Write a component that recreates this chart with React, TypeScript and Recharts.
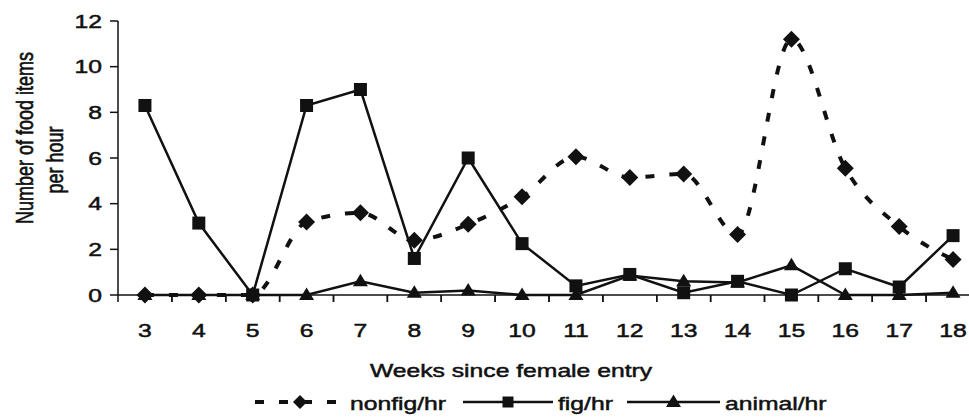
import React from 'react';
import { LineChart, Line, XAxis, YAxis, Legend } from 'recharts';

const weeks = [3, 4, 5, 6, 7, 8, 9, 10, 11, 12, 13, 14, 15, 16, 17, 18];
const nonfigPerHr = [0, 0, 0, 3.2, 3.6, 2.4, 3.1, 4.3, 6.05, 5.15, 5.3, 2.65, 11.2, 5.55, 3.0, 1.55];
const figPerHr = [8.3, 3.15, 0, 8.3, 9.0, 1.6, 6.0, 2.25, 0.4, 0.9, 0.1, 0.6, 0, 1.15, 0.35, 2.6];
const animalPerHr = [0, 0, 0, 0, 0.6, 0.1, 0.2, 0, 0, 0.85, 0.6, 0.55, 1.3, 0, 0, 0.1];
const yTicks = [0, 2, 4, 6, 8, 10, 12];

const data = weeks.map((week, i) => ({
  week,
  nonfig: nonfigPerHr[i],
  fig: figPerHr[i],
  animal: animalPerHr[i],
}));

const CHART_W = 980;
const CHART_H = 418;
const Y_AXIS_W = 118;
const STEP = (CHART_W - Y_AXIS_W) / weeks.length;
const INK = '#111';
const FONT = '"Liberation Sans", Arial, sans-serif';
const STRETCH = 'scale(1.3,1)';
const DASH = '9 15';

// scanned-looking text: a thin outline makes the glyphs a bit heavier
const textStyle = { fontSize: 19, fontFamily: FONT, fill: INK, stroke: INK, strokeWidth: 0.5 };

// markers
const Square = ({ cx, cy, size = 13 }: any) => (
  <rect x={cx - size / 2} y={cy - size / 2} width={size} height={size} fill={INK} />
);
const Diamond = ({ cx, cy, r = 8.5 }: any) => (
  <path d={`M${cx},${cy - r}L${cx + r},${cy}L${cx},${cy + r}L${cx - r},${cy}Z`} fill={INK} />
);
const Triangle = ({ cx, cy }: any) => (
  <path d={`M${cx},${cy - 7.5}L${cx + 7.5},${cy + 5}L${cx - 7.5},${cy + 5}Z`} fill={INK} />
);

const WeekTick = ({ x, y, payload }: any) => (
  <g>
    <line x1={x - STEP / 2} y1={y} x2={x - STEP / 2} y2={y + 7} stroke={INK} strokeWidth={1.5} />
    <line x1={x + STEP / 2} y1={y} x2={x + STEP / 2} y2={y + 7} stroke={INK} strokeWidth={1.5} />
    <text transform={`translate(${x},${y + 42}) ${STRETCH}`} textAnchor="middle" {...textStyle}>
      {payload.value}
    </text>
  </g>
);

const ValueTick = ({ x, y, payload }: any) => (
  <text transform={`translate(${x},${y}) ${STRETCH}`} dy="0.35em" textAnchor="end" {...textStyle}>
    {payload.value}
  </text>
);

const XTitle = ({ viewBox }: any) => (
  <text transform={`translate(511,${viewBox.y + 82}) ${STRETCH}`} textAnchor="middle" {...textStyle}>
    Weeks since female entry
  </text>
);

const YTitle = ({ viewBox }: any) => (
  <g textAnchor="middle" {...textStyle} fontSize={18}>
    <text transform={`translate(33,${viewBox.y + 117}) rotate(-90) scale(1,1.3)`}>Number of food items</text>
    <text transform={`translate(63,${viewBox.y + 139}) rotate(-90) scale(1,1.3)`}>per hour</text>
  </g>
);

const legendItems = [
  { label: 'nonfig/hr', x1: 255, x2: 345, mark: 'diamond', dashed: true },
  { label: 'fig/hr', x1: 463, x2: 553, mark: 'square', dashed: false },
  { label: 'animal/hr', x1: 627, x2: 720, mark: 'triangle', dashed: false },
];

const LegendContent = () => (
  <svg width={969} height={36}>
    {legendItems.map((item) => {
      const mid = (item.x1 + item.x2) / 2;
      return (
        <g key={item.label}>
          <line
            x1={item.x1}
            y1={20}
            x2={item.x2}
            y2={20}
            stroke={INK}
            strokeWidth={item.dashed ? 4 : 2.5}
            strokeDasharray={item.dashed ? DASH : undefined}
          />
          {item.mark === 'diamond' && <Diamond cx={mid} cy={20} r={7} />}
          {item.mark === 'square' && <Square cx={mid} cy={20} size={11} />}
          {item.mark === 'triangle' && <Triangle cx={mid} cy={20} />}
          <text transform={`translate(${item.x2 + 5},28) ${STRETCH}`} {...textStyle}>
            {item.label}
          </text>
        </g>
      );
    })}
  </svg>
);

export default function App() {
  return (
    <div style={{ position: 'absolute', left: 0, top: 0, width: 969, height: 418, overflow: 'hidden', background: '#fff' }}>
      <LineChart width={CHART_W} height={CHART_H} data={data} margin={{ top: 21, right: 0, left: 0, bottom: 43 }}>
        <XAxis
          dataKey="week"
          type="number"
          domain={[2.5, 18.5]}
          ticks={weeks}
          interval={0}
          tick={<WeekTick />}
          tickLine={false}
          tickSize={0}
          tickMargin={0}
          height={80}
          axisLine={{ stroke: INK, strokeWidth: 1.5 }}
          label={<XTitle />}
        />
        <YAxis
          domain={[0, 12]}
          ticks={yTicks}
          width={Y_AXIS_W}
          tickSize={8}
          tickMargin={8}
          tick={<ValueTick />}
          tickLine={{ stroke: INK, strokeWidth: 1.5 }}
          axisLine={{ stroke: INK, strokeWidth: 1.5 }}
          label={<YTitle />}
        />
        <Legend
          layout="vertical"
          align="center"
          verticalAlign="middle"
          content={<LegendContent />}
          wrapperStyle={{ position: 'absolute', left: 0, top: 382, width: 969, height: 36 }}
        />
        <Line
          type="monotone"
          dataKey="nonfig"
          stroke={INK}
          strokeWidth={4}
          strokeDasharray={DASH}
          isAnimationActive={false}
          dot={(p: any) => <Diamond key={`d-${p.index}`} cx={p.cx} cy={p.cy} />}
        />
        <Line
          type="linear"
          dataKey="fig"
          stroke={INK}
          strokeWidth={2.5}
          isAnimationActive={false}
          dot={(p: any) => <Square key={`s-${p.index}`} cx={p.cx} cy={p.cy} />}
        />
        <Line
          type="linear"
          dataKey="animal"
          stroke={INK}
          strokeWidth={2.5}
          isAnimationActive={false}
          dot={(p: any) => <Triangle key={`t-${p.index}`} cx={p.cx} cy={p.cy} />}
        />
      </LineChart>
    </div>
  );
}
